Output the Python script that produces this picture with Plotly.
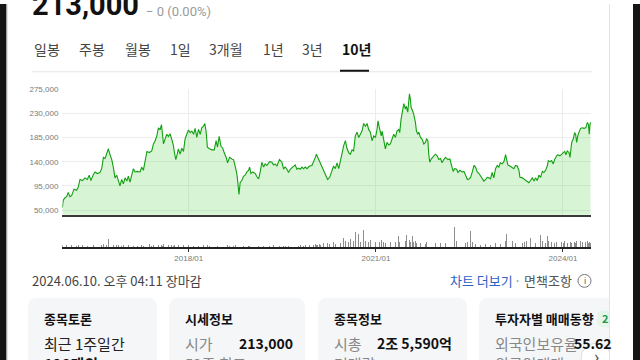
import plotly.graph_objects as go

W, H = 640, 360

# ---------------- data ----------------
DATES = [
    "2015-12-23", "2015-12-28", "2016-01-07", "2016-01-17", "2016-01-26", "2016-02-05", "2016-02-15", "2016-02-29",
    "2016-03-15", "2016-03-25", "2016-04-04", "2016-04-19", "2016-05-03", "2016-05-17", "2016-05-28", "2016-06-07",
    "2016-06-21", "2016-07-01", "2016-07-14", "2016-07-30", "2016-08-09", "2016-08-19", "2016-08-29", "2016-09-07",
    "2016-09-17", "2016-09-27", "2016-10-07", "2016-10-16", "2016-10-26", "2016-11-05", "2016-11-15", "2016-11-24",
    "2016-12-04", "2016-12-14", "2016-12-24", "2017-01-03", "2017-01-12", "2017-01-22", "2017-02-01", "2017-02-11",
    "2017-02-20", "2017-03-06", "2017-03-22", "2017-03-31", "2017-04-10", "2017-04-20", "2017-05-01", "2017-05-15",
    "2017-05-29", "2017-06-08", "2017-06-18", "2017-06-28", "2017-07-07", "2017-07-17", "2017-07-25", "2017-07-31",
    "2017-08-06", "2017-08-15", "2017-08-25", "2017-09-04", "2017-09-13", "2017-09-23", "2017-10-03", "2017-10-09",
    "2017-10-17", "2017-10-23", "2017-11-01", "2017-11-11", "2017-11-21", "2017-12-01", "2017-12-10", "2017-12-20",
    "2017-12-30", "2018-01-09", "2018-01-19", "2018-01-29", "2018-02-07", "2018-02-17", "2018-02-27", "2018-03-09",
    "2018-03-18", "2018-03-28", "2018-04-05", "2018-04-13", "2018-04-20", "2018-05-02", "2018-05-16", "2018-05-30",
    "2018-06-10", "2018-06-18", "2018-06-28", "2018-07-08", "2018-07-19", "2018-07-27", "2018-08-08", "2018-08-16",
    "2018-08-28", "2018-09-10", "2018-09-20", "2018-10-01", "2018-10-09", "2018-10-15", "2018-10-22", "2018-10-29",
    "2018-11-08", "2018-11-17", "2018-11-27", "2018-12-07", "2018-12-17", "2018-12-23", "2018-12-31", "2019-01-11",
    "2019-01-25", "2019-02-04", "2019-02-14", "2019-02-23", "2019-03-05", "2019-03-15", "2019-03-24", "2019-04-03",
    "2019-04-19", "2019-05-03", "2019-05-12", "2019-05-22", "2019-06-01", "2019-06-16", "2019-06-30", "2019-07-10",
    "2019-07-20", "2019-07-30", "2019-08-08", "2019-08-18", "2019-09-03", "2019-09-16", "2019-09-26", "2019-10-06",
    "2019-10-16", "2019-10-25", "2019-11-04", "2019-11-14", "2019-11-24", "2019-12-09", "2019-12-23", "2020-01-02",
    "2020-01-12", "2020-01-18", "2020-01-26", "2020-02-06", "2020-02-10", "2020-02-20", "2020-02-29", "2020-03-10",
    "2020-03-24", "2020-04-05", "2020-04-18", "2020-04-28", "2020-05-08", "2020-05-18", "2020-05-28", "2020-06-06",
    "2020-06-16", "2020-06-26", "2020-07-06", "2020-07-15", "2020-07-25", "2020-08-04", "2020-08-14", "2020-08-23",
    "2020-09-02", "2020-09-12", "2020-09-22", "2020-10-02", "2020-10-11", "2020-10-21", "2020-10-31", "2020-11-10",
    "2020-11-19", "2020-11-29", "2020-12-09", "2020-12-19", "2020-12-29", "2021-01-07", "2021-01-13", "2021-01-21",
    "2021-02-01", "2021-02-06", "2021-02-15", "2021-02-25", "2021-03-07", "2021-03-17", "2021-03-26", "2021-04-05",
    "2021-04-15", "2021-04-25", "2021-05-04", "2021-05-14", "2021-05-20", "2021-05-28", "2021-06-07", "2021-06-13",
    "2021-06-22", "2021-06-28", "2021-07-06", "2021-07-12", "2021-07-16", "2021-07-22", "2021-07-26", "2021-08-02",
    "2021-08-10", "2021-08-20", "2021-08-26", "2021-09-03", "2021-09-09", "2021-09-18", "2021-09-28", "2021-10-08",
    "2021-10-18", "2021-10-24", "2021-11-01", "2021-11-06", "2021-11-12", "2021-11-20", "2021-12-02", "2021-12-15",
    "2021-12-25", "2022-01-04", "2022-01-14", "2022-01-23", "2022-02-02", "2022-02-12", "2022-02-26", "2022-03-10",
    "2022-03-17", "2022-03-29", "2022-04-06", "2022-04-18", "2022-04-26", "2022-05-07", "2022-05-21", "2022-05-31",
    "2022-06-10", "2022-06-20", "2022-06-29", "2022-07-09", "2022-07-19", "2022-07-29", "2022-08-07", "2022-08-17",
    "2022-08-27", "2022-09-05", "2022-09-15", "2022-09-25", "2022-10-05", "2022-10-14", "2022-10-24", "2022-11-03",
    "2022-11-12", "2022-11-22", "2022-12-02", "2022-12-12", "2022-12-21", "2022-12-30", "2023-01-10", "2023-01-20",
    "2023-01-30", "2023-02-04", "2023-02-12", "2023-02-24", "2023-03-10", "2023-03-19", "2023-03-29", "2023-04-08",
    "2023-04-18", "2023-04-24", "2023-05-08", "2023-05-21", "2023-06-02", "2023-06-15", "2023-06-25", "2023-07-05",
    "2023-07-15", "2023-07-24", "2023-08-03", "2023-08-13", "2023-08-23", "2023-09-02", "2023-09-11", "2023-09-21",
    "2023-10-01", "2023-10-07", "2023-10-17", "2023-10-26", "2023-11-05", "2023-11-13", "2023-11-25", "2023-12-02",
    "2023-12-14", "2023-12-22", "2024-01-03", "2024-01-11", "2024-01-18", "2024-01-26", "2024-02-05", "2024-02-11",
    "2024-02-15", "2024-02-21", "2024-03-01", "2024-03-09", "2024-03-15", "2024-03-21", "2024-03-29", "2024-04-05",
    "2024-04-13", "2024-04-23", "2024-05-03", "2024-05-13", "2024-05-23", "2024-05-29", "2024-06-03", "2024-06-07",
    "2024-06-10",
]

PRICE = [
    55000, 68700, 73000, 75000, 83000, 75000, 77000, 89000, 87000, 93000, 107000, 105000, 110000, 107000, 115000, 105000,
    116000, 121000, 118000, 120000, 127000, 148000, 146000, 153000, 164000, 153000, 144000, 130000, 110000, 115000, 102000, 95000,
    107000, 99000, 110000, 104000, 113000, 102000, 115000, 127000, 121000, 122000, 121000, 130000, 124000, 142000, 159000, 157000,
    160000, 173000, 179000, 188000, 203000, 199000, 209000, 191000, 173000, 182000, 191000, 187000, 192000, 182000, 170000, 157000,
    144000, 151000, 164000, 154000, 165000, 159000, 182000, 191000, 199000, 194000, 197000, 191000, 202000, 185000, 200000, 191000,
    203000, 206000, 211000, 194000, 167000, 164000, 162000, 162000, 179000, 167000, 187000, 169000, 165000, 157000, 148000, 138000,
    148000, 145000, 144000, 130000, 118000, 102000, 79000, 102000, 105000, 113000, 115000, 121000, 124000, 130000, 118000, 121000,
    118000, 112000, 108000, 121000, 139000, 130000, 136000, 133000, 140000, 139000, 134000, 136000, 132000, 144000, 139000, 127000,
    130000, 126000, 120000, 126000, 130000, 134000, 126000, 128000, 126000, 130000, 127000, 130000, 127000, 132000, 133000, 139000,
    148000, 154000, 148000, 142000, 136000, 130000, 124000, 115000, 107000, 111000, 124000, 132000, 127000, 138000, 127000, 142000,
    157000, 170000, 179000, 165000, 157000, 154000, 162000, 160000, 188000, 195000, 185000, 191000, 197000, 211000, 206000, 211000,
    200000, 195000, 179000, 188000, 185000, 200000, 216000, 203000, 188000, 197000, 182000, 164000, 176000, 171000, 173000, 182000,
    191000, 185000, 197000, 200000, 194000, 219000, 237000, 248000, 238000, 243000, 232000, 258000, 266000, 255000, 240000, 236000,
    228000, 213000, 197000, 191000, 195000, 185000, 182000, 173000, 176000, 183000, 179000, 154000, 139000, 145000, 150000, 154000,
    151000, 144000, 146000, 138000, 144000, 148000, 144000, 145000, 136000, 122000, 127000, 126000, 120000, 124000, 121000, 122000,
    115000, 107000, 108000, 111000, 121000, 133000, 130000, 121000, 118000, 113000, 110000, 104000, 107000, 111000, 110000, 108000,
    120000, 110000, 127000, 133000, 130000, 138000, 136000, 140000, 153000, 142000, 134000, 132000, 128000, 127000, 133000, 132000,
    124000, 111000, 110000, 107000, 105000, 101000, 105000, 110000, 104000, 110000, 105000, 115000, 111000, 122000, 120000, 124000,
    132000, 142000, 140000, 142000, 136000, 144000, 151000, 153000, 151000, 154000, 157000, 159000, 153000, 160000, 157000, 148000,
    165000, 176000, 182000, 194000, 191000, 176000, 190000, 197000, 202000, 203000, 202000, 203000, 213000, 209000, 191000, 209000,
    213000,
]

# trading volume, in units of 10,000 shares
VOLUME = [
    2, 1, 1, 2, 1, 1, 2, 1, 1, 2, 1, 2, 1, 1, 2, 1, 2, 1, 1, 2, 2,
    3, 6, 2, 8, 3, 6, 2, 3, 2, 2,
    2, 1, 2, 1, 1, 2, 1, 2, 1, 2, 1, 1, 2, 1,
    9,
    2, 3, 1, 2, 1, 2, 2, 1, 2, 1, 3, 2, 1, 2,
    1, 2, 1, 2, 1, 1, 2, 1, 1, 2, 1, 1, 2, 1, 2, 1, 1, 2, 1, 1,
    1, 2, 1, 1, 2, 1, 1, 1, 2, 1, 1, 2, 1, 1, 1, 2, 1, 1, 1, 2, 1, 2, 3,
    6,
    2, 1, 1, 2, 1, 1, 1, 2, 1, 1, 1, 2, 1, 1, 2, 1, 1, 1, 2, 1,
    1, 1, 2, 1, 1, 2, 1, 1, 1, 2, 1, 1, 2, 1, 1, 2, 1, 2, 1, 2, 3, 2, 2, 3,
    2, 3, 4, 3, 4, 3, 4, 5, 3, 4, 6, 4,
    7, 9, 6, 11, 5, 8, 14, 6, 15, 7, 13, 5,
    9, 17, 6, 11, 5, 7, 8, 4, 5, 6, 4, 5,
    7, 16, 5, 4, 6, 4, 5, 4, 8, 5, 4, 11,
    5, 7, 13, 9, 6, 12, 5, 8, 7, 5, 6, 11,
    5, 6, 4, 5, 9, 4, 5, 4, 3, 5, 4, 13,
    8, 5, 8, 4, 3, 7, 4, 3, 5, 4, 6, 4,
    13, 5, 20, 6, 29, 4, 6, 3, 4, 5, 4, 16,
    5, 4, 3, 6, 3, 2, 3, 2, 3, 4, 3, 2,
    4, 3, 4, 3, 4, 3, 4, 5, 6, 13, 5, 4,
    6, 9, 4, 3, 5, 8, 4, 5, 6, 4, 9, 5,
    6, 4, 7, 5, 12, 6, 5, 4, 11, 6, 4, 5,
    8, 4, 5, 4, 6, 5, 4, 6, 5, 4, 5, 6,
    5, 4, 6, 5, 4, 6, 5, 4, 6, 5, 4, 5,
    6, 4, 5, 6, 4,
]

PRICE_TICKS = [50000, 95000, 140000, 185000, 230000, 275000]
DATE_TICKS = ["2018-01-01", "2021-01-01", "2024-01-01"]
DATE_TICK_LABELS = ["2018/01", "2021/01", "2024/01"]
X_RANGE = ["2015-12-23", "2024-06-13"]
Y_RANGE = [41700, 275000]

TABS = ["일봉", "주봉", "월봉", "1일", "3개월", "1년", "3년", "10년"]
TAB_X = [32, 77, 123, 168, 207, 261, 300, 340]

KR = "Noto Sans CJK KR"


def fx(x):
    return x / W


def fy(y):
    return 1 - y / H


fig = go.Figure()

fig.add_trace(go.Scatter(
    x=DATES, y=PRICE, mode="lines",
    line=dict(color="#12a012", width=1.1),
    fill="tozeroy", fillcolor="rgba(110,215,100,0.28)",
    xaxis="x", yaxis="y", hoverinfo="skip", showlegend=False,
))
fig.add_trace(go.Bar(
    x=DATES, y=VOLUME,
    marker=dict(color="#8e8e8e", line=dict(width=0)),
    width=86400000 * 2.8,
    xaxis="x2", yaxis="y2", hoverinfo="skip", showlegend=False,
))

shapes = []
annots = []


def rrect(x0, y0, x1, y1, r):
    pts = [
        ("M", [(x0 + r, y0)]), ("L", [(x1 - r, y0)]), ("Q", [(x1, y0), (x1, y0 + r)]),
        ("L", [(x1, y1 - r)]), ("Q", [(x1, y1), (x1 - r, y1)]), ("L", [(x0 + r, y1)]),
        ("Q", [(x0, y1), (x0, y1 - r)]), ("L", [(x0, y0 + r)]), ("Q", [(x0, y0), (x0 + r, y0)]),
    ]
    s = ""
    for cmd, ps in pts:
        s += cmd + " " + " ".join(f"{fx(a):.5f},{fy(b):.5f}" for a, b in ps) + " "
    return s + "Z"


def text(x, y, t, size=13, color="#333", bold=False, anchor="left", family=KR):
    if bold:
        t = f"<b>{t}</b>"
    annots.append(dict(
        x=fx(x), y=fy(y), xref="paper", yref="paper", xanchor=anchor, yanchor="middle",
        text=t, showarrow=False, font=dict(family=family, size=size, color=color),
    ))


# header
text(30, 1, "213,000", size=29, color="#111", bold=True, family="Roboto")
text(144, 8, "− 0 (0.00%)", size=13, color="#9a9a9a", family="Roboto")

for lab, x in zip(TABS, TAB_X):
    text(x, 45, lab, size=14, color="#111" if lab == "10년" else "#444", bold=(lab == "10년"))

shapes.append(dict(type="line", xref="paper", yref="paper", x0=fx(32), x1=fx(592), y0=fy(68.5), y1=fy(68.5),
                   line=dict(color="#e6e6e6", width=1)))
shapes.append(dict(type="line", xref="paper", yref="paper", x0=fx(340), x1=fx(369), y0=fy(67.5), y1=fy(67.5),
                   line=dict(color="#111", width=2)))

# footer line
text(30, 280, "2024.06.10. 오후 04:11 장마감", size=13, color="#444")
text(448, 280, "차트 더보기", size=13, color="#2c62c4")
text(512, 280, "·", size=13, color="#888")
text(522, 280, "면책조항", size=13, color="#555")
shapes.append(dict(type="circle", xref="paper", yref="paper", x0=fx(578), x1=fx(591), y0=fy(273.5), y1=fy(286.5),
                   line=dict(color="#777", width=1)))
text(584.5, 280, "i", size=9, color="#666", anchor="center", family="Roboto")

# cards
CARD_X = [(28, 157), (169, 305), (318, 467), (479, 640)]
for x0, x1 in CARD_X:
    shapes.append(dict(type="path", xref="paper", yref="paper", path=rrect(x0, 297, x1, 400, 10),
                       fillcolor="#f5f6f8", line=dict(width=0), layer="below"))

text(42, 318, "종목토론", size=13, color="#111", bold=True)
text(42, 343, "최근 1주일간", size=15, color="#222")
text(42, 364, "128개의", size=15, color="#111", bold=True)

text(183, 318, "시세정보", size=13, color="#111", bold=True)
text(183, 343, "시가", size=15, color="#888")
text(237, 343, "213,000", size=14, color="#111", bold=True)
text(183, 364, "52주 최고", size=15, color="#888")
text(237, 364, "264,000", size=14, color="#111", bold=True)

text(332, 318, "종목정보", size=13, color="#111", bold=True)
text(332, 343, "시총", size=15, color="#888")
text(375, 343, "2조 5,590억", size=14, color="#111", bold=True)
text(332, 364, "거래량", size=15, color="#888")
text(375, 364, "54,679", size=14, color="#111", bold=True)

text(493, 318, "투자자별 매매동향", size=13, color="#111", bold=True)
shapes.append(dict(type="path", xref="paper", yref="paper", path=rrect(597, 310, 625, 327, 6),
                   fillcolor="#e6f5ec", line=dict(width=0), layer="below"))
text(600, 318, "2", size=11, color="#1a9a4a", bold=True)
text(493, 343, "외국인보유율", size=15, color="#888")
text(572, 343, "55.62", size=14, color="#111", bold=True)
text(493, 364, "외국인매매", size=15, color="#888")

# round arrow button
shapes.append(dict(type="circle", xref="paper", yref="paper", x0=fx(581), x1=fx(611), y0=fy(343), y1=fy(373),
                   fillcolor="#ffffff", line=dict(color="#dddddd", width=1), layer="above"))
text(596, 356, "›", size=18, color="#555", anchor="center", family="Roboto")

# page edges
shapes.append(dict(type="rect", xref="paper", yref="paper", x0=fx(609.5), x1=fx(640), y0=0, y1=1,
                   fillcolor="#ffffff", line=dict(width=0), layer="above"))
shapes.append(dict(type="line", xref="paper", yref="paper", x0=fx(609.5), x1=fx(609.5), y0=0, y1=1,
                   line=dict(color="#e3e3e3", width=1), layer="above"))
shapes.append(dict(type="rect", xref="paper", yref="paper", x0=fx(633), x1=fx(640), y0=0, y1=1,
                   fillcolor="#151515", line=dict(width=0), layer="above"))
shapes.append(dict(type="rect", xref="paper", yref="paper", x0=0, x1=fx(6.5), y0=0, y1=1,
                   fillcolor="#151515", line=dict(width=0), layer="above"))
shapes.append(dict(type="line", xref="paper", yref="paper", x0=fx(7.2), x1=fx(7.2), y0=0, y1=1,
                   line=dict(color="#d8d8d8", width=1), layer="above"))

fig.update_layout(
    width=W, height=H,
    margin=dict(l=0, r=0, t=0, b=0),
    paper_bgcolor="#ffffff", plot_bgcolor="rgba(0,0,0,0)",
    showlegend=False, bargap=0,
    shapes=shapes, annotations=annots,
    xaxis=dict(
        domain=[fx(62.4), fx(591)], range=X_RANGE, type="date", anchor="y",
        tickvals=DATE_TICKS, showticklabels=False, ticks="",
        showgrid=True, gridcolor="#ececec", gridwidth=1,
        showline=True, linecolor="#3a3a3a", linewidth=2, zeroline=False,
    ),
    yaxis=dict(
        domain=[fy(213), fy(86)], range=Y_RANGE, anchor="x",
        tickvals=PRICE_TICKS, tickformat=",", ticks="",
        tickfont=dict(family="Liberation Sans", size=8, color="#7a7a7a"),
        showgrid=True, gridcolor="#ececec", gridwidth=1, zeroline=False, showline=False,
        ticklabelstandoff=3,
    ),
    xaxis2=dict(
        domain=[fx(62.4), fx(591)], range=X_RANGE, type="date", anchor="y2",
        tickvals=DATE_TICKS, ticktext=DATE_TICK_LABELS,
        tickfont=dict(family="Liberation Sans", size=8, color="#7a7a7a"),
        ticks="outside", ticklen=3, tickcolor="#333",
        showgrid=False, showline=True, linecolor="#222", linewidth=1.5, zeroline=False,
    ),
    yaxis2=dict(
        domain=[fy(246), fy(216)], range=[0, 30], anchor="x2",
        visible=False, showgrid=False, zeroline=False,
    ),
)

fig.write_html(
    "out.html",
    config={"displayModeBar": False, "staticPlot": True},
    post_script="document.body.style.margin='0';document.body.style.overflow='hidden';",
)
